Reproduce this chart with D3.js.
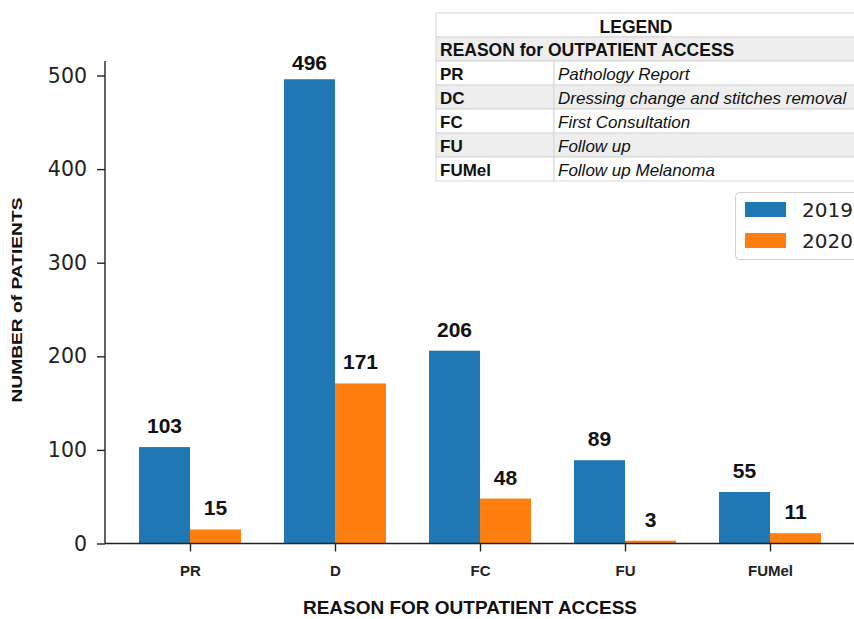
<!DOCTYPE html>
<html>
<head>
<meta charset="utf-8">
<script src="https://cdn.jsdelivr.net/npm/d3@7"></script>
<style>
  body { margin: 0; background: #fff; }
  svg { display: block; }
</style>
</head>
<body>
<svg width="854" height="619"></svg>
<script>
const categories = ['PR', 'D', 'FC', 'FU', 'FUMel'];
const years = ['2019', '2020'];
const values2019 = [103, 496, 206, 89, 55];
const values2020 = [15, 171, 48, 3, 11];
const yTicks = [0, 100, 200, 300, 400, 500];

const legendCodes = ['PR', 'DC', 'FC', 'FU', 'FUMel'];
const legendNames = ['Pathology Report', 'Dressing change and stitches removal',
  'First Consultation', 'Follow up', 'Follow up Melanoma'];

const colors = ['#1f77b4', '#ff7f0e'];
const arial = 'Liberation Sans, Arial, sans-serif';
const svg = d3.select('svg');

// scales: category index -> centre, value -> y
const x = d3.scaleLinear().domain([0, 4]).range([190, 770]);
const barW = 51;
const y = d3.scaleLinear().domain([0, 500]).range([543.5, 75.5]);

const chart = svg.append('g');

// bars + value labels
const series = [values2019, values2020];
series.forEach((vals, s) => {
  const g = chart.append('g');
  g.selectAll('rect')
    .data(vals)
    .enter()
    .append('rect')
    .attr('x', (d, i) => x(i) + (s === 0 ? -barW : 0))
    .attr('y', d => y(d))
    .attr('width', barW)
    .attr('height', d => y(0) - y(d))
    .attr('fill', colors[s]);

  g.selectAll('text')
    .data(vals)
    .enter()
    .append('text')
    .attr('x', (d, i) => x(i) + (s === 0 ? -barW / 2 : barW / 2))
    .attr('y', d => Math.max(y(d) - 14, 70))
    .attr('text-anchor', 'middle')
    .style('font-family', arial)
    .style('font-weight', 'bold')
    .style('font-size', '21px')
    .attr('fill', '#111')
    .text(d => d);
});

// y axis
const yAxis = chart.append('g')
  .attr('transform', 'translate(105,0)')
  .call(d3.axisLeft(y).tickValues(yTicks).tickSize(8).tickPadding(10));
yAxis.select('.domain').attr('stroke', '#222').attr('stroke-width', 1.4)
  .attr('d', 'M0,' + (y(0)) + 'V' + 61);
yAxis.selectAll('.tick line').attr('stroke', '#222').attr('stroke-width', 1.4);
yAxis.selectAll('.tick text')
  .style('font-family', 'DejaVu Sans, sans-serif')
  .style('font-size', '20.5px')
  .attr('fill', '#222');

// x axis
const xAxis = chart.append('g')
  .attr('transform', `translate(0,${y(0)})`)
  .call(d3.axisBottom(x).tickValues(d3.range(categories.length))
    .tickFormat(i => categories[i]).tickSize(8).tickPadding(14));
xAxis.select('.domain').attr('stroke', '#222').attr('stroke-width', 1.4)
  .attr('d', 'M105,0H860');
xAxis.selectAll('.tick line').attr('stroke', '#222').attr('stroke-width', 1.4);
xAxis.selectAll('.tick text')
  .style('font-family', arial)
  .style('font-weight', 'bold')
  .style('font-size', '15px')
  .attr('fill', '#222');

// axis titles
svg.append('text')
  .attr('transform', 'translate(22,300) rotate(-90)')
  .attr('text-anchor', 'middle')
  .attr('textLength', 205)
  .attr('lengthAdjust', 'spacingAndGlyphs')
  .style('font-family', arial)
  .style('font-weight', 'bold')
  .style('font-size', '15px')
  .attr('fill', '#111')
  .text('NUMBER of PATIENTS');

svg.append('text')
  .attr('x', 470)
  .attr('y', 614)
  .attr('text-anchor', 'middle')
  .attr('textLength', 334)
  .attr('lengthAdjust', 'spacingAndGlyphs')
  .style('font-family', arial)
  .style('font-weight', 'bold')
  .style('font-size', '18px')
  .attr('fill', '#111')
  .text('REASON FOR OUTPATIENT ACCESS');

// legend table
const tbl = svg.append('g');
const tx = 436, tw = 430, rowH = 24, colX = 554;
const tTop = 13;
const lineCol = '#d6d6d6', grey = '#eeeeee';
tbl.append('rect').attr('x', tx).attr('y', tTop).attr('width', tw).attr('height', rowH)
  .attr('fill', '#fff').attr('stroke', lineCol);
tbl.append('text').attr('x', 636).attr('y', tTop + 20).attr('text-anchor', 'middle')
  .style('font-family', arial).style('font-weight', 'bold')
  .style('font-size', '17.5px').attr('fill', '#111').text('LEGEND');
tbl.append('rect').attr('x', tx).attr('y', tTop + rowH).attr('width', tw).attr('height', rowH)
  .attr('fill', grey).attr('stroke', lineCol);
tbl.append('text').attr('x', 440).attr('y', tTop + rowH + 19)
  .style('font-family', arial).style('font-weight', 'bold')
  .style('font-size', '17.5px').attr('fill', '#111').text('REASON for OUTPATIENT ACCESS');

legendCodes.forEach((c, i) => {
  const ry = tTop + rowH * (i + 2);
  const fill = i % 2 === 1 ? grey : '#fff';
  tbl.append('rect').attr('x', tx).attr('y', ry).attr('width', colX - tx).attr('height', rowH)
    .attr('fill', fill).attr('stroke', lineCol);
  tbl.append('rect').attr('x', colX).attr('y', ry).attr('width', tx + tw - colX).attr('height', rowH)
    .attr('fill', fill).attr('stroke', lineCol);
  tbl.append('text').attr('x', 440).attr('y', ry + 19)
    .style('font-family', arial).style('font-weight', 'bold')
    .style('font-size', '17px').attr('fill', '#111').text(c);
  tbl.append('text').attr('x', 558).attr('y', ry + 19)
    .style('font-family', arial).style('font-style', 'italic')
    .style('font-size', '17px').attr('fill', '#111').text(legendNames[i]);
});

// year legend
const lg = svg.append('g');
lg.append('rect').attr('x', 735.5).attr('y', 192.5).attr('width', 140).attr('height', 67)
  .attr('rx', 4).attr('fill', '#fff').attr('stroke', '#d0d0d0');
years.forEach((yr, i) => {
  lg.append('rect').attr('x', 745).attr('y', 202 + i * 31).attr('width', 41).attr('height', 15)
    .attr('fill', colors[i]);
  lg.append('text').attr('x', 802).attr('y', 217 + i * 31)
    .style('font-family', 'DejaVu Sans, sans-serif').style('font-size', '20px')
    .attr('fill', '#222').text(yr);
});
</script>
</body>
</html>
